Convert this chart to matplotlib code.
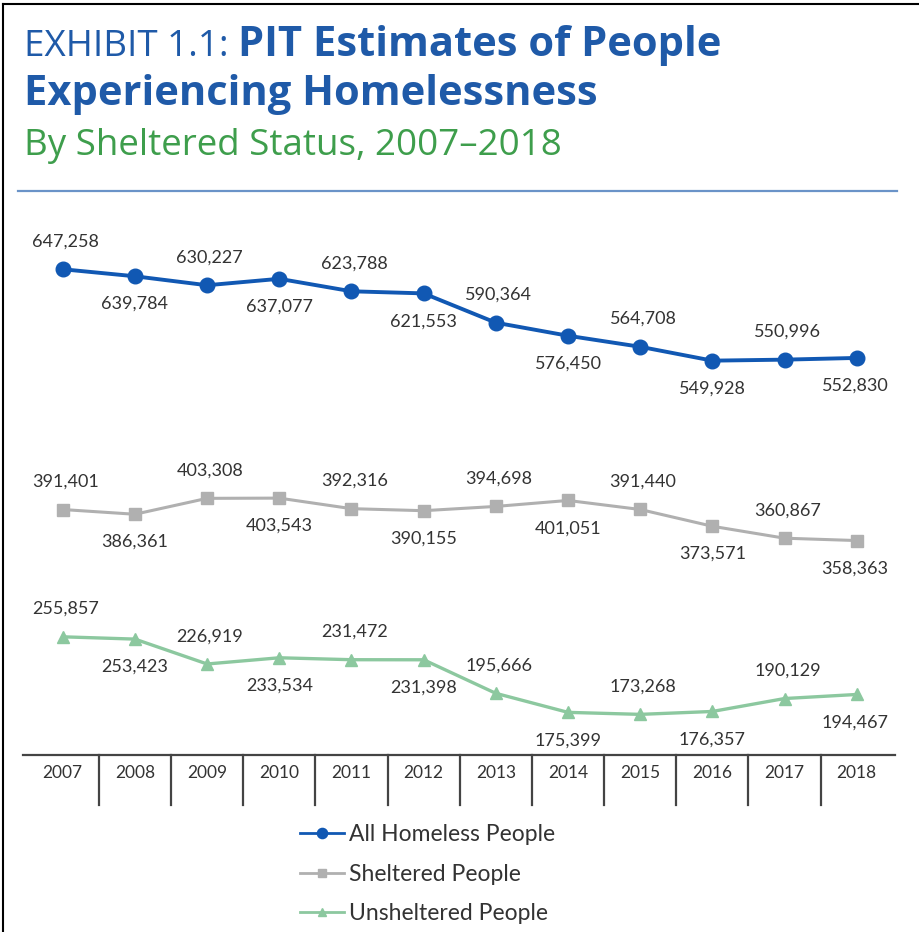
import numpy as np
import matplotlib
matplotlib.use("Agg")
import matplotlib.pyplot as plt
from matplotlib.lines import Line2D

years = ["2007", "2008", "2009", "2010", "2011", "2012",
         "2013", "2014", "2015", "2016", "2017", "2018"]
all_homeless = [647258, 639784, 630227, 637077, 623788, 621553,
                590364, 576450, 564708, 549928, 550996, 552830]
sheltered = [391401, 386361, 403308, 403543, 392316, 390155,
             394698, 401051, 391440, 373571, 360867, 358363]
unsheltered = [255857, 253423, 226919, 233534, 231472, 231398,
               195666, 175399, 173268, 176357, 190129, 194467]
series_names = ["All Homeless People", "Sheltered People", "Unsheltered People"]

# Style
FONT = "Lato"
TITLE_FONT = "Open Sans"
BLUE = "#1158b3"
GRAY = "#b0b0b0"
GREEN = "#8cc89f"
TITLE_BLUE = "#1f5aa8"
SUB_GREEN = "#3e9e4c"
TXT = "#333333"

plt.rcParams["font.family"] = [FONT, "DejaVu Sans"]

W, H = 920, 932
fig = plt.figure(figsize=(W / 100, H / 100), dpi=100)

# frame lines (top and left only)
fig.add_artist(Line2D([3 / W, 3 / W], [0, 1 - 4 / H], color="black", lw=1.5))
fig.add_artist(Line2D([3 / W, 1], [1 - 4 / H, 1 - 4 / H], color="black", lw=1.5))

# Title block
renderer = fig.canvas.get_renderer()
t1 = fig.text(24 / W, 1 - 56 / H, "EXHIBIT 1.1: ", fontsize=26.5, color=TITLE_BLUE,
              va="baseline", family=TITLE_FONT)
bb = t1.get_window_extent(renderer)
fig.text(bb.x1 / W, 1 - 56 / H, "PIT Estimates of People", fontsize=30,
         fontweight="bold", color=TITLE_BLUE, va="baseline", family=TITLE_FONT)
fig.text(24 / W, 1 - 105 / H, "Experiencing Homelessness", fontsize=30,
         fontweight="bold", color=TITLE_BLUE, va="baseline", family=TITLE_FONT)
fig.text(24 / W, 1 - 155 / H, "By Sheltered Status, 2007\u20132018", fontsize=26.5,
         color=SUB_GREEN, va="baseline", family=TITLE_FONT)
fig.add_artist(Line2D([18 / W, 897 / W], [1 - 191 / H, 1 - 191 / H],
                      color="#6a93c8", lw=1.6))

# Chart area
ax = fig.add_axes([23 / W, 1 - 755 / H, (895 - 23) / W, (755 - 200) / H])
x = np.arange(len(years))

ax.plot(x, all_homeless, color=BLUE, lw=2.8, marker="o", markersize=10.5,
        label=series_names[0], zorder=3)
ax.plot(x, sheltered, color=GRAY, lw=2.2, marker="s", markersize=8.5,
        label=series_names[1], zorder=3)
ax.plot(x, unsheltered, color=GREEN, lw=2.4, marker="^", markersize=8.5,
        label=series_names[2], zorder=3)

# alternating value labels: above for even index, below for odd
for vals in (all_homeless, sheltered, unsheltered):
    for i, v in enumerate(vals):
        up = i % 2 == 0
        dy = 20 if up else -20
        dx = 2 if up else 0
        ha = "center"
        if i == len(vals) - 1:
            ha, dx = "right", 23
        ax.annotate(f"{v:,}", (x[i], v), xytext=(dx, dy), textcoords="offset points",
                    ha=ha, va="center", fontsize=13, color=TXT)

ax.set_xlim(-0.55, len(years) - 1 + 0.53)
ax.set_ylim(130000, 721000)

for side in ("top", "left", "right"):
    ax.spines[side].set_visible(False)
ax.spines["bottom"].set_color("#444444")
ax.spines["bottom"].set_linewidth(1.6)
ax.set_yticks([])
ax.set_xticks(x)
ax.set_xticklabels(years, fontsize=12.5, color=TXT)
ax.tick_params(axis="x", length=0, pad=7)

# vertical separators between year boxes
for s in x[:-1] + 0.5:
    ax.plot([s, s], [0, -50 / 555], transform=ax.get_xaxis_transform(),
            color="#444444", lw=1.6, clip_on=False)

leg = fig.legend(loc="upper left", bbox_to_anchor=(289 / W, 1 - 813 / H),
                 frameon=False, fontsize=16.5, handlelength=1.9, handletextpad=0.2,
                 labelspacing=0.8, borderpad=0, markerscale=0.7)
for t in leg.get_texts():
    t.set_color(TXT)
for ln in leg.get_lines():
    ln.set_linewidth(2.0)

fig.savefig("out.png", dpi=100)
